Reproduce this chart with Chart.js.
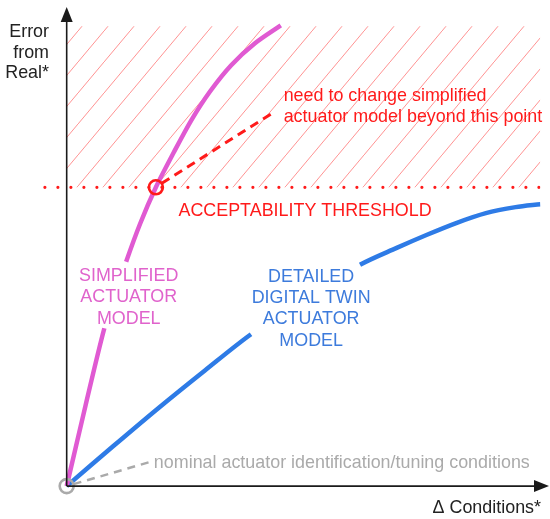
<!DOCTYPE html>
<html>
<head>
<meta charset="utf-8">
<script src="https://cdn.jsdelivr.net/npm/chart.js@4"></script>
<style>
html,body{margin:0;padding:0;background:#fff;}
#wrap{width:550px;height:519px;}
</style>
</head>
<body>
<div id="wrap"><canvas id="c" width="550" height="519"></canvas></div>
<script>
// ---- data (arbitrary units: x = Δ conditions, y = error from real) ----
const simplifiedX = [0, 3.97, 7.95, 10.25, 12.55, 15.48, 18.83, 22.59, 26.36, 30.33, 34.73, 39.75, 45.19];
const simplifiedY = [0, 17.38, 34.12, 41.42, 48.50, 56.65, 64.59, 72.10, 79.18, 85.41, 90.99, 95.71, 99.57];
const simplifiedGap = [7.95, 12.55];

const detailedX = [0, 9.73, 19.46, 29.18, 38.91, 50.42, 61.92, 69.67, 75.94, 82.22, 88.49, 94.77, 100];
const detailedY = [0, 8.55, 16.95, 25.00, 32.83, 40.56, 47.85, 51.50, 54.29, 56.87, 59.01, 60.30, 60.94];
const detailedGap = [38.91, 61.92];

const thresholdY = 64.59;
const thresholdX = [-4.6, 100];
const hatchX = [0, 100];
const hatchTop = 99.4;

const crossingPoint = [18.83, 64.59];
const nominalPoint = [0, 0];
const changeArrowX = [20.08, 43.51];
const changeArrowY = [65.45, 80.69];
const nominalArrowX = [1.46, 17.36];
const nominalArrowY = [0.43, 5.15];

const yAxisTitle = ['Error', 'from', 'Real*'];
const xAxisTitle = 'Δ Conditions*';
const changeLabel = ['need to change simplified', 'actuator model beyond this point'];
const thresholdLabel = 'ACCEPTABILITY THRESHOLD';
const simplifiedLabel = ['SIMPLIFIED', 'ACTUATOR', 'MODEL'];
const detailedLabel = ['DETAILED', 'DIGITAL TWIN', 'ACTUATOR', 'MODEL'];
const nominalLabel = 'nominal actuator identification/tuning conditions';

// ---- helpers ----
const pts = (xs, ys) => xs.map((x, i) => ({x: x, y: ys[i]}));
const PINK = '#e05ad2';
const BLUE = '#2e7be6';
const RED = '#ff1a1a';
const GREY = '#aaaaaa';

function hatchPattern() {
  const w = 26, h = 31;
  const c = document.createElement('canvas');
  c.width = w; c.height = h;
  const g = c.getContext('2d');
  g.strokeStyle = 'rgba(255,110,110,0.75)';
  g.lineWidth = 1;
  g.beginPath();
  g.moveTo(-w, 2 * h); g.lineTo(2 * w, -h);
  g.stroke();
  return g.createPattern(c, 'repeat');
}

const gapSegment = (gap, color) => ({
  borderColor: ctx => (ctx.p0.parsed.x >= gap[0] - 1e-6 && ctx.p1.parsed.x <= gap[1] + 1e-6) ? 'transparent' : color
});

const F = '"Liberation Sans", Arial, sans-serif';

const overlay = {
  id: 'overlay',
  afterDatasetsDraw(chart) {
    const g = chart.ctx, xs = chart.scales.x, ys = chart.scales.y;
    const X = v => xs.getPixelForValue(v), Y = v => ys.getPixelForValue(v);
    const ox = X(0), oy = Y(0);
    g.save();
    // axes with arrowheads
    g.strokeStyle = '#1a1a1a'; g.fillStyle = '#1a1a1a'; g.lineWidth = 1.6;
    g.beginPath(); g.moveTo(ox, oy); g.lineTo(ox, 20); g.stroke();
    g.beginPath(); g.moveTo(ox, 7); g.lineTo(ox - 6, 22); g.lineTo(ox + 6, 22); g.closePath(); g.fill();
    g.beginPath(); g.moveTo(ox, oy); g.lineTo(535, oy); g.stroke();
    g.beginPath(); g.moveTo(549, oy); g.lineTo(534, oy - 6); g.lineTo(534, oy + 6); g.closePath(); g.fill();

    const font = '17.9px ' + F;
    g.font = font; g.textBaseline = 'alphabetic';
    // y axis title
    g.fillStyle = '#222'; g.textAlign = 'right';
    yAxisTitle.forEach((t, i) => g.fillText(t, 49, 37 + i * 20.7));
    // x axis title
    g.textAlign = 'right';
    g.fillText(xAxisTitle, 541, 513);
    // red labels
    g.fillStyle = RED; g.textAlign = 'left';
    changeLabel.forEach((t, i) => g.fillText(t, X(45.8), Y(83.3) + i * 21.5));
    g.fillText(thresholdLabel, X(23.6), Y(58.4));
    // simplified label
    g.fillStyle = '#e063cc'; g.textAlign = 'center';
    simplifiedLabel.forEach((t, i) => g.fillText(t, X(13.1), Y(44.4) + i * 21.5));
    // detailed label
    g.fillStyle = '#3d7bdc';
    detailedLabel.forEach((t, i) => g.fillText(t, X(51.6), Y(44.2) + i * 21.3));
    // nominal label
    g.fillStyle = GREY; g.textAlign = 'left';
    g.fillText(nominalLabel, X(18.4), Y(3.9));
    g.restore();
  }
};

new Chart(document.getElementById('c'), {
  type: 'scatter',
  data: {
    datasets: [
      {
        label: 'hatch',
        data: pts(hatchX, [hatchTop, hatchTop]),
        showLine: true, borderWidth: 0, pointRadius: 0,
        backgroundColor: hatchPattern(),
        fill: {value: thresholdY},
        order: 10
      },
      {
        label: 'threshold',
        data: pts(thresholdX, [thresholdY, thresholdY]),
        showLine: true, borderColor: RED, borderWidth: 3.2,
        borderDash: [0, 13], borderCapStyle: 'round', pointRadius: 0, order: 9
      },
      {
        label: 'change',
        data: pts(changeArrowX, changeArrowY),
        showLine: true, borderColor: RED, borderWidth: 3,
        borderDash: [9, 6], pointRadius: 0, order: 8
      },
      {
        label: 'nominal',
        data: pts(nominalArrowX, nominalArrowY),
        showLine: true, borderColor: GREY, borderWidth: 2.5,
        borderDash: [8, 6], pointRadius: 0, order: 8
      },
      {
        label: 'detailed',
        data: pts(detailedX, detailedY),
        showLine: true, borderColor: BLUE, borderWidth: 4.5,
        tension: 0.3, pointRadius: 0,
        segment: gapSegment(detailedGap, BLUE), order: 5
      },
      {
        label: 'simplified',
        data: pts(simplifiedX, simplifiedY),
        showLine: true, borderColor: PINK, borderWidth: 4.5,
        tension: 0.3, pointRadius: 0,
        segment: gapSegment(simplifiedGap, PINK), order: 4
      },
      {
        label: 'crossing',
        data: [{x: crossingPoint[0], y: crossingPoint[1]}],
        pointRadius: 7, pointBorderWidth: 2.6, pointBorderColor: RED,
        pointBackgroundColor: 'transparent', order: 1
      },
      {
        label: 'origin',
        data: [{x: nominalPoint[0], y: nominalPoint[1]}],
        pointRadius: 7, pointBorderWidth: 2.6, pointBorderColor: GREY,
        pointBackgroundColor: 'transparent', order: 1
      }
    ]
  },
  options: {
    responsive: false,
    animation: false,
    events: [],
    layout: {padding: {left: 43, right: 5, top: 6, bottom: 19}},
    plugins: {legend: {display: false}, tooltip: {enabled: false}},
    scales: {
      x: {type: 'linear', min: -5, max: 100, display: false},
      y: {type: 'linear', min: -3, max: 103, display: false}
    }
  },
  plugins: [overlay]
});
</script>
</body>
</html>
